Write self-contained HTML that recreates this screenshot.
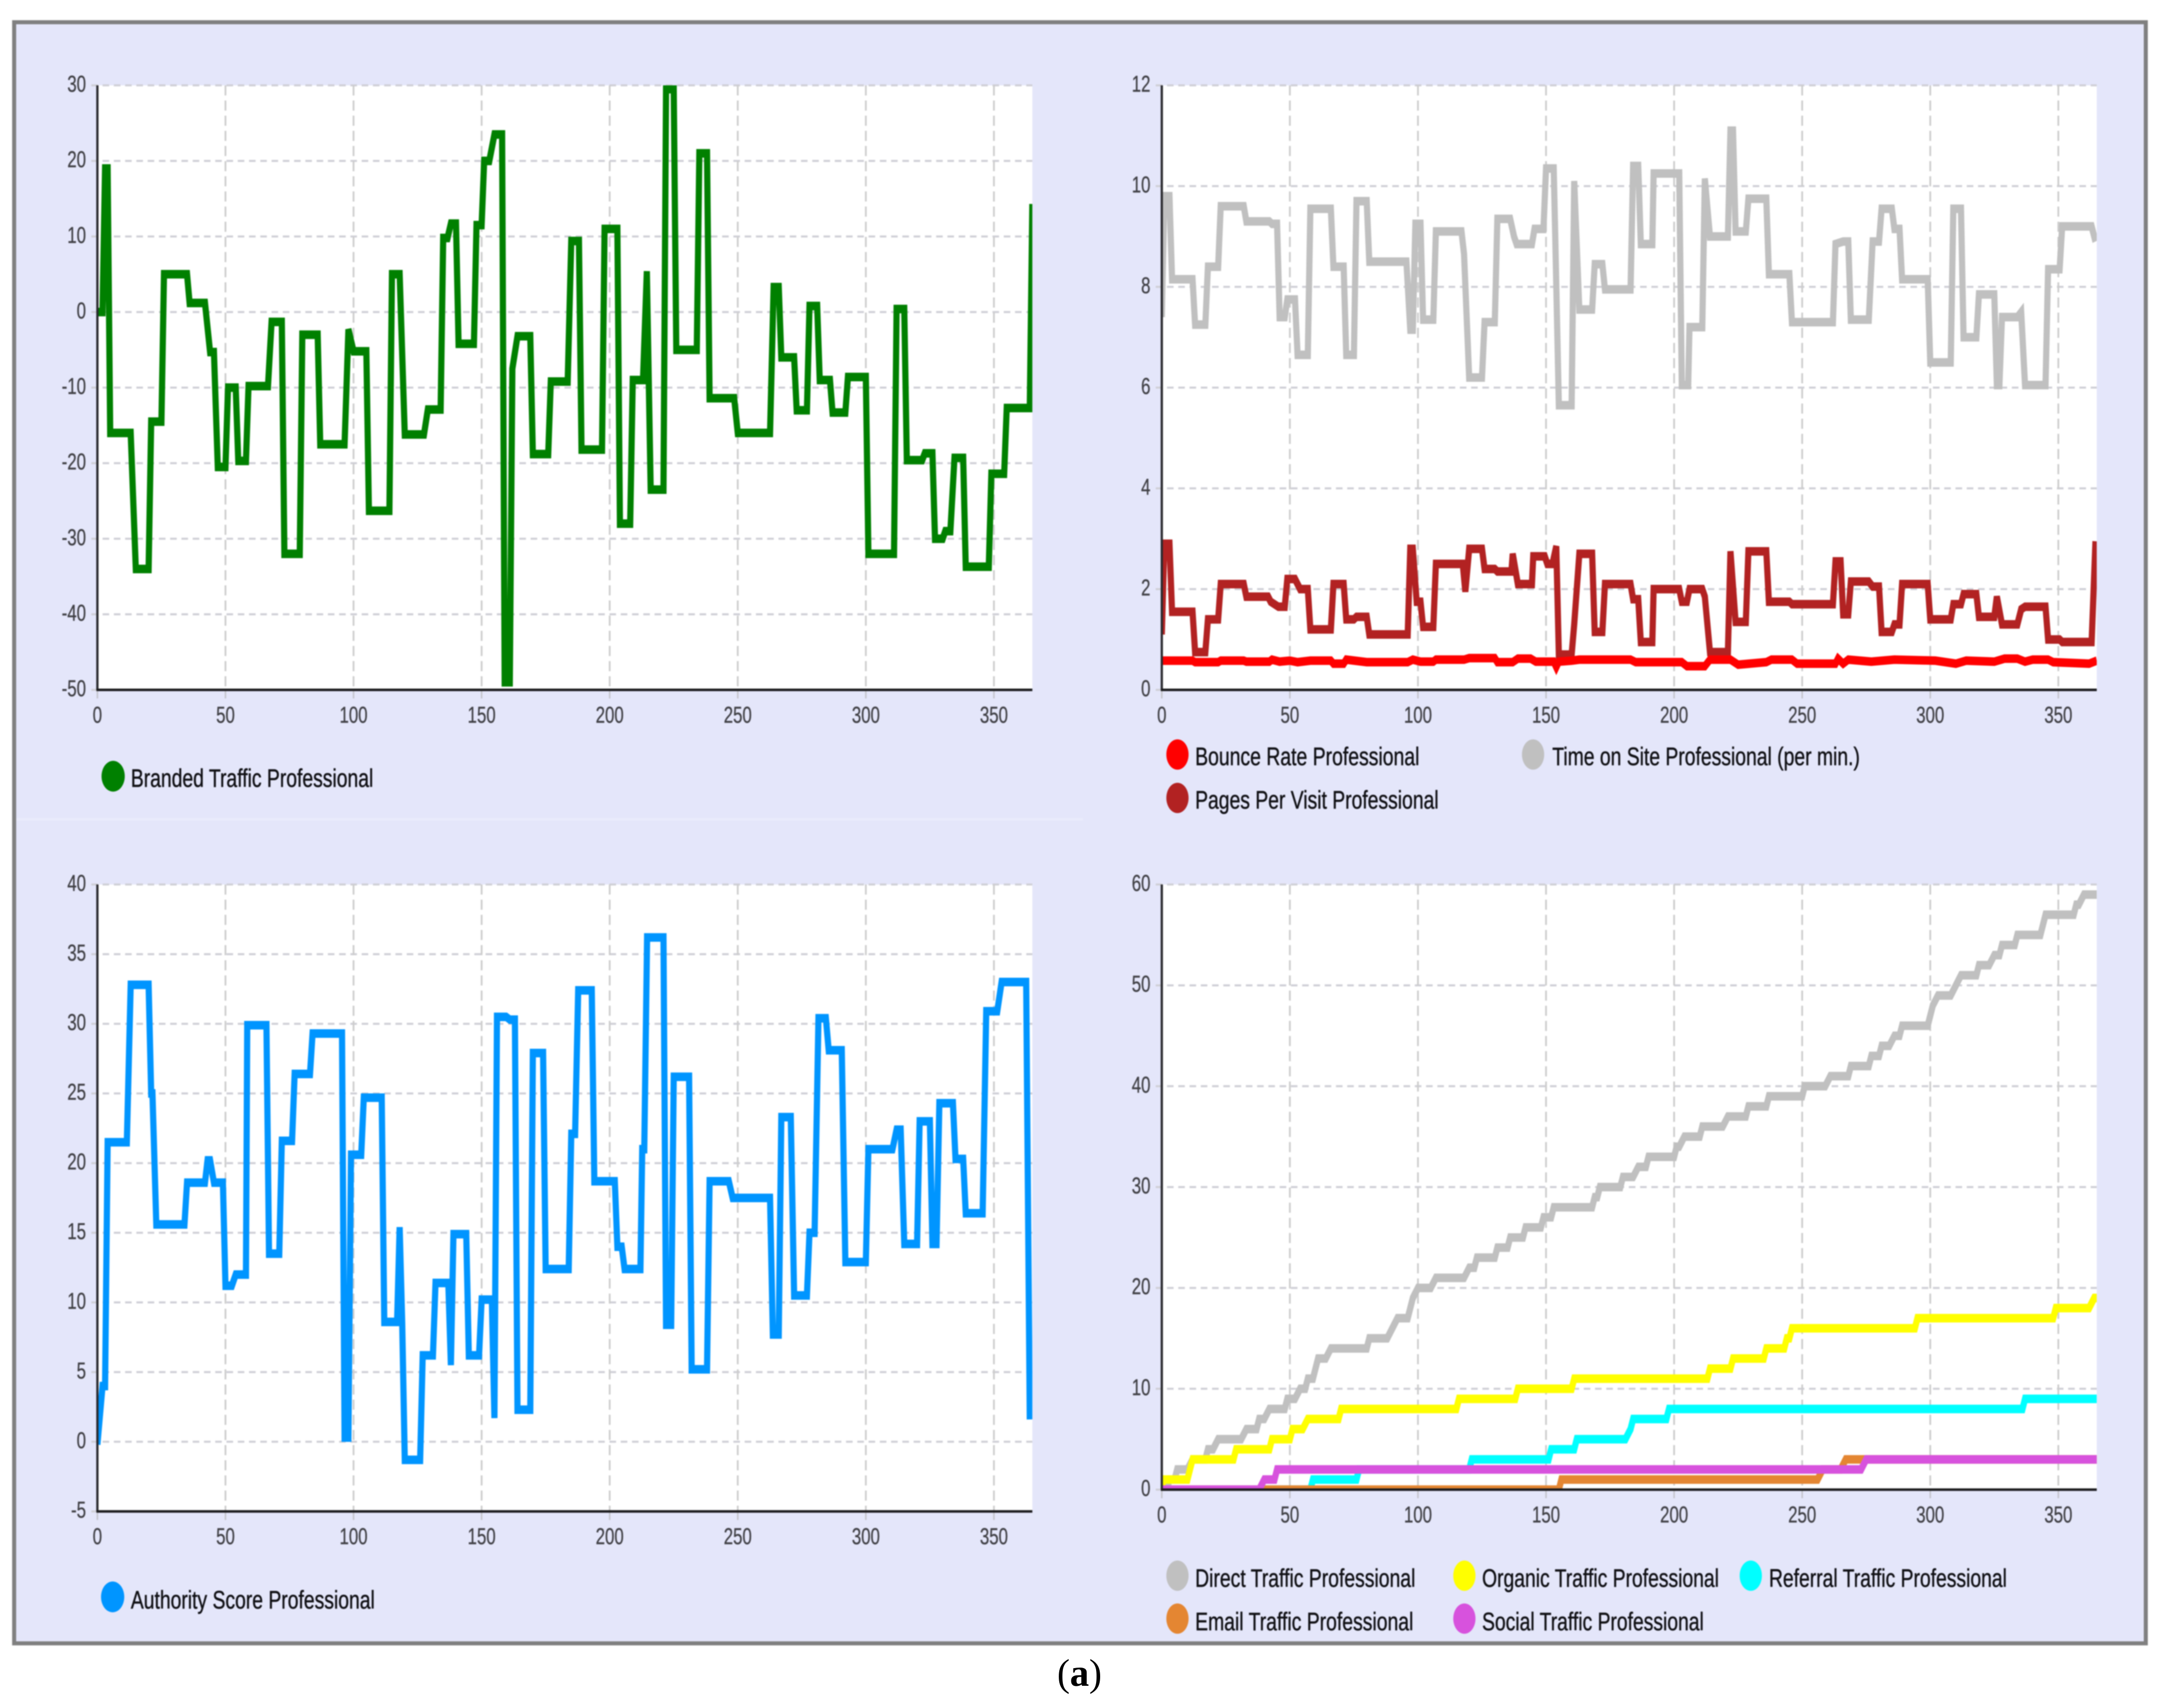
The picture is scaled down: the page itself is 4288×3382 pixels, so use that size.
<!DOCTYPE html>
<html lang="en">
<head>
<meta charset="utf-8">
<title>Professional traffic metrics</title>
<style>
html,body{margin:0;padding:0;background:#fff;width:4288px;height:3382px;overflow:hidden}
svg{display:block}
text{font-family:"Liberation Sans",sans-serif}
.legend-text{font-size:50px;fill:#101014;stroke:#101014;stroke-width:0.7px}
.tick-text{font-size:45px;fill:#404045;stroke:#404045;stroke-width:0.5px}
</style>
</head>
<body>
<svg id="figure" xmlns="http://www.w3.org/2000/svg" width="4288" height="3382" viewBox="0 0 4288 3382">
  <rect x="0" y="0" width="4288" height="3382" fill="#ffffff"/>
  <g id="blurred" style="filter:blur(1.1px)">
    <rect x="28" y="44" width="4220" height="3210" fill="#e4e6fa" stroke="#808080" stroke-width="8"/>
    <rect x="32" y="1620" width="2112" height="5" fill="#e9ebfb"/>
    <g id="plots"></g>

    <g>
      <ellipse cx="224" cy="1537" rx="23" ry="30.5" fill="#008000"/>
      <text class="legend-text" x="259" y="1558" textLength="480" lengthAdjust="spacingAndGlyphs">Branded Traffic Professional</text>
    </g>

    <g>
      <ellipse cx="2331" cy="1494" rx="22" ry="30" fill="#ff0000"/>
      <text class="legend-text" x="2366" y="1515" textLength="444" lengthAdjust="spacingAndGlyphs">Bounce Rate Professional</text>
      <ellipse cx="3035" cy="1494" rx="22" ry="30" fill="#c0c0c0"/>
      <text class="legend-text" x="3073" y="1515" textLength="609" lengthAdjust="spacingAndGlyphs">Time on Site Professional (per min.)</text>
      <ellipse cx="2331" cy="1580" rx="22" ry="30" fill="#b22222"/>
      <text class="legend-text" x="2366" y="1601" textLength="482" lengthAdjust="spacingAndGlyphs">Pages Per Visit Professional</text>
    </g>

    <g>
      <ellipse cx="223" cy="3162" rx="23" ry="30.5" fill="#0095ff"/>
      <text class="legend-text" x="259" y="3185" textLength="483" lengthAdjust="spacingAndGlyphs">Authority Score Professional</text>
    </g>

    <g>
      <ellipse cx="2331" cy="3120" rx="22" ry="30" fill="#c0c0c0"/>
      <text class="legend-text" x="2366" y="3142" textLength="436" lengthAdjust="spacingAndGlyphs">Direct Traffic Professional</text>
      <ellipse cx="2899" cy="3120" rx="22" ry="30" fill="#ffff00"/>
      <text class="legend-text" x="2934" y="3142" textLength="469" lengthAdjust="spacingAndGlyphs">Organic Traffic Professional</text>
      <ellipse cx="3466" cy="3120" rx="22" ry="30" fill="#00ffff"/>
      <text class="legend-text" x="3502" y="3142" textLength="471" lengthAdjust="spacingAndGlyphs">Referral Traffic Professional</text>
      <ellipse cx="2331" cy="3205" rx="22" ry="30" fill="#e48632"/>
      <text class="legend-text" x="2366" y="3228" textLength="432" lengthAdjust="spacingAndGlyphs">Email Traffic Professional</text>
      <ellipse cx="2899" cy="3205" rx="22" ry="30" fill="#d752dd"/>
      <text class="legend-text" x="2934" y="3228" textLength="439" lengthAdjust="spacingAndGlyphs">Social Traffic Professional</text>
    </g>
  </g>
  <text x="2137" y="3338" text-anchor="middle" style="font-family:'Liberation Serif',serif;font-size:76px" fill="#000">(<tspan font-weight="bold">a</tspan>)</text>
</svg>

<script>
// Each series is a list of holds: [first day, last day, value]
const xTicks = [0, 50, 100, 150, 200, 250, 300, 350];
const brandedYTicks = [30, 20, 10, 0, -10, -20, -30, -40, -50];
const engagementYTicks = [12, 10, 8, 6, 4, 2, 0];
const authorityYTicks = [40, 35, 30, 25, 20, 15, 10, 5, 0, -5];
const channelYTicks = [60, 50, 40, 30, 20, 10, 0];

const brandedTraffic = [[0,2,0],[3,4,19],[5,13,-16],[15,20,-34],[21,25,-14.5],[26,35,5],[36,42,1.2],[44,45.5,-5.3],[47,50,-20.5],[51,54,-10],[55,58,-19.7],[59,66.6,-9.8],[68,72,-1.3],[73,79,-32],[80,86,-3],[87,96.5,-17.5],[98,98,-2.3],[100,105,-5.2],[106,114,-26.3],[115,118,5],[120,127.5,-16.2],[129,134,-12.9],[135,136.7,9.8],[138,140,11.7],[141,147,-4.2],[148,150,11.5],[151,153,20],[155,158,23.5],[159,161,-49],[162,162,-7.5],[164,169,-3.2],[170,176,-18.8],[177,183.6,-9.2],[185,188,9.4],[189,197,-18.2],[198,203,11],[204,208,-28],[209,213,-9],[214.5,214.5,5.4],[216,221,-23.5],[222,225,29.5],[226,234,-5],[235,238,21],[239,248.6,-11.4],[250,262.6,-16],[264,266,3.3],[267,272,-6],[273,277,-13],[278,281,0.8],[282,286,-9],[287,292,-13.3],[293,300,-8.6],[301,311,-32],[312,315,0.4],[316,322,-19.6],[323,326,-18.7],[327,330,-30],[331,333,-29],[334.6,338,-19.3],[339,348,-33.7],[349,354,-21.4],[355,364,-12.7],[365,365,14.3]];

const timeOnSite = [[0,0,7.4],[1,3,9.8],[4,12,8.15],[13,17,7.25],[18,22,8.4],[23,32,9.6],[33,42,9.3],[43,45,9.25],[46,48,7.4],[49,52,7.75],[53,57,6.65],[58,66,9.55],[67,71,8.4],[72,75,6.65],[76,80,9.7],[81,95.5,8.5],[97,98,7.15],[99,101,9.25],[102,106,7.35],[107,117,9.1],[118,118,8.65],[120,125,6.2],[126,130,7.3],[131,136,9.35],[137.5,137.5,9],[138.5,144.5,8.85],[145.5,149,9.15],[150,153,10.35],[153.6,153.6,9],[155,160,5.65],[161,161,10.1],[163,168,7.55],[169,172,8.45],[173,183,7.95],[184,186,10.4],[187,191.5,8.85],[192,202,10.25],[203,205.5,6.05],[206,211,7.2],[212,212,10.15],[214,221,9],[222,223,11.1],[224,228,9.1],[229,236,9.75],[237,245,8.25],[246,262,7.3],[263,263,8.85],[266,268,8.9],[269,276,7.35],[277.5,280,8.9],[281,285,9.55],[286,288,9.15],[289,299,8.15],[300,308,6.5],[309,312,9.55],[313,318,7],[319,325,7.85],[326,327,6.05],[328,334,7.4],[335.5,335.5,7.5],[337,345,6.05],[346,350.5,8.35],[351.5,363,9.2],[364.5,364.5,8.9]];

const pagesPerVisit = [[0,0,1.1],[1,3,2.9],[4,12,1.55],[13,17,0.75],[18,22,1.4],[23,32,2.1],[33,41.5,1.85],[42.5,42.5,1.75],[45.5,48,1.65],[49,52,2.2],[54,57,2],[58,66,1.2],[67,71,2.1],[72,75,1.4],[76,80,1.45],[81,96,1.1],[97,98,2.8],[99.5,101,1.75],[102,106,1.25],[107,117.5,2.5],[118.5,118.5,1.95],[120,125,2.8],[126,130,2.4],[131,136.5,2.35],[137,137,2.7],[139,144.5,2.1],[145,149.5,2.65],[150.5,152.5,2.5],[154,154,2.85],[155,160,0.7],[161,161,1.3],[163,168,2.7],[169,172,1.15],[173,183,2.1],[184,186,1.8],[187,191.5,0.95],[192,202,2],[203,205,1.75],[206,211,2],[212,212,1.85],[214,221,0.75],[222,222,2.75],[224,228,1.35],[229,236,2.75],[237,245,1.75],[246,262,1.7],[263,265,2.55],[266,268,1.5],[269,276,2.15],[277.5,280,2.05],[281,285,1.15],[286,288,1.3],[289,299,2.1],[300,308,1.4],[309,312,1.7],[313,318,1.9],[319,325,1.45],[326,326,1.85],[328,334,1.3],[335.5,335.5,1.6],[337,345,1.65],[346,350.5,1],[351.5,363,0.95],[364.5,364.5,2.95]];

const bounceRate = [[0,12,0.58],[13,22,0.55],[23,32,0.58],[33,42,0.56],[43,43,0.6],[46,46,0.56],[50,50,0.58],[53,53,0.55],[58,66,0.58],[67,71,0.52],[72,72,0.6],[80,96,0.55],[98,98,0.6],[101,106,0.56],[107,118,0.6],[120,130,0.63],[131,137,0.55],[139,144,0.62],[146,153,0.56],[154,154,0.45],[155,155,0.56],[160,160,0.58],[163,183,0.6],[185,203,0.55],[205,212,0.47],[214,222,0.6],[225,225,0.5],[236,236,0.55],[238,246,0.6],[248,263,0.52],[264,264,0.62],[266,266,0.52],[268,268,0.6],[277,277,0.56],[286,286,0.6],[302,302,0.58],[310,310,0.52],[314,314,0.58],[325,325,0.56],[329,334,0.62],[337,337,0.56],[340,346,0.6],[348,348,0.55],[362,362,0.52],[365,365,0.58]];

const authorityScore = [[0,0,-0.2],[2,3,4],[4,11.5,21.5],[13,20,32.8],[21,21.5,25],[23,34,15.6],[35,42,18.6],[43,44,20.2],[45.5,49,18.6],[50,52.5,11.2],[54,58,12],[58.5,66,29.9],[67,71,13.5],[72,76,21.6],[77,83,26.4],[84,95.5,29.3],[96.5,98,0.3],[99,103,20.6],[104,111,24.7],[112,117,8.6],[118,118,15.4],[119,119,8.5],[120,126,-1.3],[127,131,6.2],[132,137,11.4],[138,138,5.5],[139,144,14.9],[145,149,6.2],[150,154,10.2],[155,155,1.7],[156,159.6,30.5],[161,163,30.3],[164,169,2.3],[170,174,27.9],[175,184,12.4],[185,186.5,22.1],[187.7,193,32.4],[194,202,18.7],[203,204.7,14],[205.8,212,12.4],[212.7,213.5,21],[214.6,221,36.2],[222,224,8.4],[225,231,26.2],[232,238,5.2],[239,246.5,18.7],[248,262.6,17.5],[263.7,266,7.7],[267,270.7,23.3],[272,277,10.5],[278,280,15],[281.5,284.4,30.4],[285.5,290.6,28.1],[292,300,12.9],[301,310.4,21],[312,313.6,22.4],[315,320,14.2],[321,325,23],[326,327.6,14.2],[328.7,334,24.3],[335,338,20.3],[339,345.6,16.4],[347,351.3,30.9],[353,362.6,33],[364,364,1.6]];

const directTraffic = [[0,2,0],[3,5,1],[6,10,2],[12,17,3],[18,20,4],[22,31,5],[33,37,6],[38,40,7],[42,48,8],[49,52,9],[54,56,10],[57,59,11],[60,60,12],[61,64,13],[66,80,14],[81,88,15],[90,90,16],[92,96,17],[97,97,18],[98,98,19],[100,105,20],[107,118,21],[120,122,22],[123,130,23],[131,135,24],[136,141,25],[142,148,26],[149,152,27],[153,168,28],[169,170,29],[171,179,30],[180,184,31],[186,189,32],[190,200,33],[201,202,34],[204,210,35],[211,219,36],[221,228,37],[229,236,38],[237,250,39],[251,259,40],[261,268,41],[269,276,42],[277,280,43],[281,284,44],[286,288,45],[289,299,46],[300,300,47],[301,301,48],[303,308,49],[310,310,50],[312,318,51],[319,323,52],[325,327,53],[328,333,54],[334,343,55],[344,344,56],[345,356,57],[357,358,58],[360,365,59]];

const organicTraffic = [[0,0,0.5],[1,10,1],[11,11,2],[12,28,3],[29,42,4],[43,50,5],[51,55,6],[57,69,7],[70,115,8],[116,138,9],[139,160,10],[161,213,11],[214,222,12],[223,235,13],[236,243,14],[244,245,15],[246,294,16],[295,348,17],[349,362,18],[364,365,19]];

const referralTraffic = [[0,58,0],[59,76,1],[77,120,2],[121,151,3],[152,161,4],[162,181,5],[183,183,6],[184,197,7],[198,336,8],[337,365,9]];

const emailTraffic = [[0,155,0],[156,256,1],[258,265,2],[267,365,3]];

const socialTraffic = [[0,38,0],[40,44,1],[45,273,2],[275,365,3]];

const svgNS = 'http://www.w3.org/2000/svg';
const xSquash = 0.72;          // the figure is squeezed horizontally, strokes included
const pxPerDay = 5.071;
const lineThickness = 17;

function holdsToPoints(holds, xScale, yScale) {
  const pts = [];
  holds.forEach(function (h) {
    pts.push((xScale(h[0]) / xSquash).toFixed(2) + ',' + yScale(h[2]).toFixed(2));
    if (h[1] !== h[0]) {
      pts.push((xScale(h[1]) / xSquash).toFixed(2) + ',' + yScale(h[2]).toFixed(2));
    }
  });
  return pts.join(' ');
}

function make(tag, attrs, parent) {
  const node = document.createElementNS(svgNS, tag);
  Object.keys(attrs).forEach(function (k) { node.setAttribute(k, attrs[k]); });
  parent.appendChild(node);
  return node;
}

function drawPlot(cfg) {
  const root = document.getElementById('plots');
  const g = make('g', {}, root);
  
  

  const width = 365 * pxPerDay;
  const height = cfg.bottom - cfg.top;
  const xScale = function (d) { return cfg.left + d * pxPerDay; };
  const yScale = function (v) { return cfg.bottom - (v - cfg.yMin) / (cfg.yMax - cfg.yMin) * height; };

  const bg = make('rect', { x: cfg.left, y: cfg.top, width: width, height: height, fill: '#ffffff' }, g);
  
  

  cfg.yTicks.forEach(function (v) {
    const y = yScale(v);
    const line = make('line', { x1: cfg.left - 12, x2: cfg.left + width, y1: y, y2: y, stroke: '#cfcfd6', 'stroke-width': 4, 'stroke-dasharray': '13 9.3' }, g);
    
    
    const label = make('text', { class: 'tick-text', 'text-anchor': 'end', transform: 'translate(' + (cfg.left - 22.5) + ',' + (y + 12.5) + ') scale(0.74,1)' }, g);
    label.textContent = String(v);
    
    
  });

  xTicks.forEach(function (d) {
    const x = xScale(d);
    if (d !== 0) {
      const grid = make('line', { x1: x, x2: x, y1: cfg.top, y2: cfg.bottom, stroke: '#cdcdcd', 'stroke-width': 3.5, 'stroke-dasharray': '20 10' }, g);
      
      
    }
    const tick = make('line', { x1: x, x2: x, y1: cfg.bottom, y2: cfg.bottom + 17, stroke: '#c4c4cc', 'stroke-width': 3 }, g);
    
    
    const label = make('text', { class: 'tick-text', 'text-anchor': 'middle', transform: 'translate(' + x + ',' + (cfg.bottom + 65) + ') scale(0.74,1)' }, g);
    label.textContent = String(d);
    
    
  });

  const clipId = 'clip-' + cfg.name;
  const clip = make('clipPath', { id: clipId }, g);
  make('rect', { x: cfg.left, y: cfg.top, width: width, height: height }, clip);

  const seriesGroup = make('g', { 'clip-path': 'url(#' + clipId + ')' }, g);
  const squashed = make('g', { transform: 'scale(' + xSquash + ',1)' }, seriesGroup);
  cfg.series.forEach(function (s) {
    const line = make('polyline', {
      points: holdsToPoints(s.holds, xScale, yScale),
      fill: 'none', stroke: s.color, 'stroke-width': lineThickness,
      'stroke-linejoin': 'miter', 'stroke-miterlimit': 3, 'stroke-linecap': 'butt'
    }, squashed);
    
    
  });

  const yAxis = make('line', { x1: cfg.left, x2: cfg.left, y1: cfg.top, y2: cfg.bottom, stroke: '#2a2a2e', 'stroke-width': 4.5 }, g);
  
  
  const xAxis = make('line', { x1: cfg.left - 2, x2: cfg.left + width, y1: cfg.bottom, y2: cfg.bottom, stroke: '#1c1c1f', 'stroke-width': 5 }, g);
  
  
}

drawPlot({ name: 'branded-chart', left: 192.8, top: 169, bottom: 1366, yMin: -50, yMax: 30, yTicks: brandedYTicks,
  series: [{ name: 'branded-traffic-line', color: '#008000', holds: brandedTraffic }] });

drawPlot({ name: 'engagement-chart', left: 2300, top: 169, bottom: 1366, yMin: 0, yMax: 12, yTicks: engagementYTicks,
  series: [
    { name: 'time-on-site-line', color: '#c0c0c0', holds: timeOnSite },
    { name: 'pages-per-visit-line', color: '#b22222', holds: pagesPerVisit },
    { name: 'bounce-rate-line', color: '#ff0000', holds: bounceRate }
  ] });

drawPlot({ name: 'authority-chart', left: 192.8, top: 1751.4, bottom: 2992.7, yMin: -5, yMax: 40, yTicks: authorityYTicks,
  series: [{ name: 'authority-score-line', color: '#0095ff', holds: authorityScore }] });

drawPlot({ name: 'channel-chart', left: 2300, top: 1751.4, bottom: 2949.6, yMin: 0, yMax: 60, yTicks: channelYTicks,
  series: [
    { name: 'direct-traffic-line', color: '#c0c0c0', holds: directTraffic },
    { name: 'organic-traffic-line', color: '#ffff00', holds: organicTraffic },
    { name: 'referral-traffic-line', color: '#00ffff', holds: referralTraffic },
    { name: 'email-traffic-line', color: '#e48632', holds: emailTraffic },
    { name: 'social-traffic-line', color: '#d752dd', holds: socialTraffic }
  ] });
</script>
</body>
</html>
